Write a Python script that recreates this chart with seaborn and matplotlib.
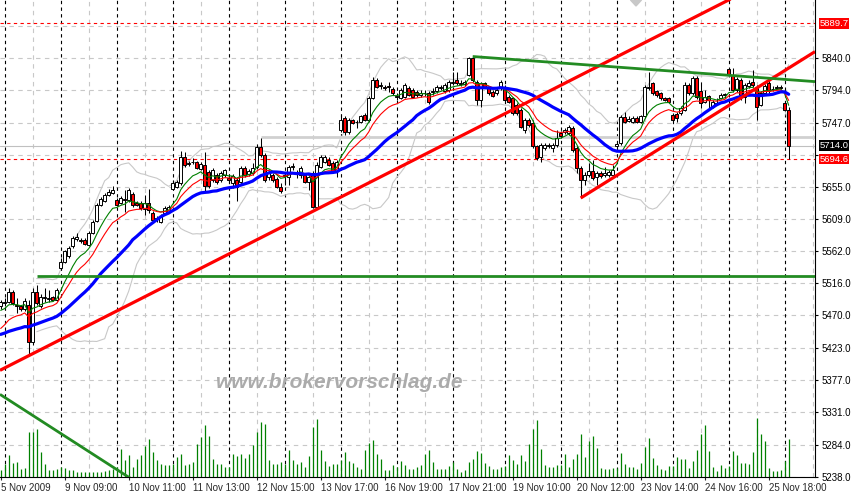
import numpy as np
import pandas as pd
import matplotlib
matplotlib.use("Agg")
import matplotlib.pyplot as plt
import matplotlib.transforms as mtransforms
import seaborn as sns

# ---------------- data (H1 bars, DAX, 5-26 Nov 2009) ----------------
opens = [5484,5488,5490,5504,5485,5483,5479,5485,5432,5504,5484,5495,5494,5496,5492,5538,5547,5556,5570,5580,
         5578,5578,5571,5588,5606,5629,5634,5643,5646,5636,5632,5637,5636,5645,5632,5632,5623,5632,5617,5610,
         5605,5617,5619,5652,5655,5660,5698,5689,5690,5690,5681,5686,5676,5665,5672,5665,5672,5668,5660,5665,
         5662,5682,5673,5675,5683,5712,5701,5669,5672,5666,5655,5670,5669,5683,5673,5672,5672,5662,5675,5626,
         5684,5691,5693,5689,5677,5737,5754,5734,5751,5748,5748,5758,5751,5782,5808,5800,5798,5800,5795,5784,
         5782,5784,5797,5794,5791,5787,5790,5789,5791,5792,5797,5792,5794,5804,5808,5803,5803,5816,5840,5806,
         5780,5804,5797,5791,5790,5797,5798,5784,5783,5772,5765,5737,5751,5747,5713,5698,5711,5713,5711,5715,
         5732,5734,5732,5739,5711,5682,5665,5672,5677,5669,5675,5672,5672,5672,5714,5718,5755,5750,5748,5754,
         5748,5756,5797,5804,5792,5789,5782,5782,5758,5760,5761,5765,5801,5789,5811,5792,5777,5785,5770,5775,
         5782,5787,5824,5816,5794,5808,5784,5800,5806,5799,5772,5790,5804,5795,5797,5798,5775,5765]
highs = [5492,5495,5510,5507,5495,5485,5495,5492,5510,5514,5501,5510,5507,5498,5510,5553,5564,5570,5584,5588,
         5581,5581,5591,5607,5632,5640,5646,5652,5656,5639,5642,5650,5653,5647,5635,5635,5643,5652,5620,5613,
         5616,5627,5629,5665,5665,5706,5705,5692,5696,5692,5690,5705,5679,5682,5675,5678,5680,5670,5673,5669,
         5685,5685,5680,5689,5716,5725,5703,5679,5675,5669,5660,5676,5686,5689,5679,5685,5675,5672,5678,5691,
         5701,5701,5698,5692,5693,5758,5757,5754,5752,5751,5758,5761,5785,5813,5811,5806,5801,5806,5798,5790,
         5797,5804,5800,5797,5794,5794,5794,5793,5797,5801,5801,5804,5808,5820,5820,5808,5808,5841,5842,5808,
         5805,5805,5800,5794,5797,5808,5801,5787,5784,5775,5768,5754,5754,5751,5715,5718,5718,5718,5718,5737,
         5735,5739,5744,5742,5714,5685,5676,5689,5693,5678,5678,5683,5679,5686,5721,5758,5763,5757,5757,5757,
         5758,5801,5820,5805,5794,5791,5784,5784,5761,5762,5771,5806,5804,5814,5814,5806,5794,5787,5780,5782,
         5790,5790,5826,5826,5813,5811,5804,5808,5823,5801,5792,5803,5808,5800,5801,5801,5777,5770]
lows = [5479,5484,5488,5485,5474,5477,5477,5413,5428,5485,5481,5489,5489,5491,5491,5535,5545,5553,5567,5577,
        5574,5571,5570,5587,5604,5627,5633,5642,5645,5627,5630,5619,5633,5626,5627,5622,5614,5617,5603,5604,
        5603,5614,5617,5650,5653,5658,5683,5685,5688,5680,5679,5649,5653,5662,5659,5662,5669,5662,5653,5635,
        5659,5669,5670,5672,5680,5698,5662,5665,5662,5653,5646,5658,5658,5679,5668,5668,5660,5650,5624,5624,
        5682,5689,5685,5675,5669,5734,5729,5731,5745,5739,5747,5749,5748,5781,5797,5795,5794,5791,5787,5780,
        5781,5782,5785,5782,5784,5784,5785,5774,5787,5790,5794,5790,5791,5801,5801,5800,5800,5814,5805,5772,
        5770,5797,5787,5784,5787,5794,5777,5775,5758,5758,5739,5732,5741,5711,5693,5691,5708,5711,5705,5712,
        5725,5731,5729,5705,5675,5639,5658,5669,5665,5658,5668,5669,5669,5669,5711,5715,5747,5748,5747,5747,
        5747,5754,5794,5787,5784,5780,5778,5775,5749,5748,5758,5764,5787,5787,5781,5768,5775,5768,5768,5772,
        5781,5782,5814,5791,5791,5780,5775,5797,5798,5751,5771,5787,5790,5793,5795,5795,5764,5694.6]
closes = [5489,5489,5504,5488,5484,5479,5491,5432,5504,5488,5497,5496,5495,5492,5507,5547,5562,5567,5581,5583,
          5577,5573,5588,5604,5629,5637,5643,5647,5650,5629,5639,5636,5650,5629,5629,5624,5632,5622,5607,5608,
          5613,5624,5626,5660,5662,5698,5686,5687,5691,5682,5688,5656,5656,5679,5662,5675,5679,5665,5670,5655,
          5682,5672,5678,5682,5712,5701,5665,5676,5665,5655,5649,5672,5684,5685,5675,5682,5662,5669,5626,5686,
          5698,5698,5686,5677,5691,5751,5734,5751,5747,5748,5756,5751,5782,5808,5799,5801,5797,5798,5790,5785,
          5794,5801,5787,5784,5787,5790,5789,5777,5793,5799,5798,5801,5806,5805,5804,5804,5805,5840,5808,5780,
          5804,5799,5790,5785,5794,5805,5780,5777,5761,5761,5741,5751,5744,5713,5696,5715,5715,5715,5715,5725,
          5728,5737,5741,5708,5682,5665,5672,5677,5667,5675,5670,5675,5676,5679,5716,5755,5748,5752,5754,5748,
          5756,5799,5799,5789,5787,5782,5780,5777,5751,5754,5768,5801,5789,5811,5784,5775,5784,5780,5777,5774,
          5787,5788,5816,5794,5810,5787,5801,5804,5801,5770,5789,5800,5792,5796,5799,5797,5765,5714.0]
volumes = [67,133,217,140,150,83,93,450,450,477,250,127,73,67,83,100,93,73,67,50,
           50,50,50,50,50,50,60,67,83,100,283,167,217,100,183,220,307,383,250,167,
           127,117,117,127,200,233,117,133,150,333,400,517,407,183,127,133,100,100,227,207,
           233,193,233,317,450,547,527,167,127,133,150,133,267,173,133,150,100,207,500,583,
           267,160,107,127,133,167,250,160,140,100,83,267,340,367,227,183,73,67,117,100,
           160,117,83,83,100,117,227,267,150,83,83,83,107,150,83,50,73,150,183,260,
           240,140,107,83,83,100,107,217,173,133,217,160,333,483,573,283,117,100,100,117,
           117,227,100,183,227,427,200,357,407,290,93,77,83,93,93,240,133,97,97,83,
           140,300,387,187,123,83,67,107,113,200,177,177,90,157,267,427,517,260,100,63,
           117,87,113,260,217,140,140,133,250,590,433,357,93,60,60,67,160,380]

time_label_bars = [0, 16, 32, 48, 64, 80, 96, 112, 128, 144, 160, 176, 192]
time_labels = ["5 Nov 2009", "9 Nov 09:00", "10 Nov 11:00", "11 Nov 13:00", "12 Nov 15:00",
               "13 Nov 17:00", "16 Nov 19:00", "17 Nov 21:00", "19 Nov 10:00", "20 Nov 12:00",
               "23 Nov 14:00", "24 Nov 16:00", "25 Nov 18:00"]
day_separator_bars = [1, 15, 29, 43, 57, 71, 85, 99, 113, 126, 140, 154, 168, 182, 196]
grid_bars = [8, 22, 36, 50, 64, 78, 92, 106, 120, 133, 147, 161, 175, 189, 203]
price_ticks = [5238.0, 5284.0, 5331.0, 5377.0, 5423.0, 5470.0, 5516.0, 5562.0, 5609.0,
               5655.0, 5701.0, 5747.0, 5794.0, 5840.0, 5886.0]

# moving-average levels before the first visible bar (read at the left edge)
ma_prior_fast, ma_prior_mid, ma_prior_slow = 5474, 5445, 5441

# drawn objects: (bar, price) anchors
red_trend_long = [(0, 5391.7), (150, 5829.9)]
red_trend_short = [(145, 5638.8), (197, 5825.5)]
green_trend_top = [(118, 5842.1), (197, 5808.8)]
green_trend_low = [(0, 5356.0), (30, 5245.0)]
green_level = (9, 5527.0)
gray_level = (65, 5727.0)
red_levels = [5889.7, 5694.6]
bid_price = 5714.0

# ---------------- computations ----------------
n = len(closes)
idx = np.arange(n)
df = pd.DataFrame({"bar": idx, "open": opens, "high": highs, "low": lows,
                   "close": closes, "volume": volumes})

def ema(vals, span, prior):
    a = 2.0 / (span + 1)
    e = prior
    out = []
    for v in vals:
        e = e + a * (v - e)
        out.append(e)
    return np.array(out)

def sma(vals, period, prior):
    s = pd.Series([prior] * (period - 1) + list(vals), dtype=float)
    return s.rolling(period).mean().to_numpy()[period - 1:]

df["ma_fast"] = ema(df["close"], 8, ma_prior_fast)
df["ma_mid"] = ema(df["close"], 13, ma_prior_mid)
df["ma_slow"] = sma(df["close"], 26, ma_prior_slow)
roll = df["close"].rolling(20, min_periods=10)
df["bb_up"] = roll.mean() + 2 * roll.std(ddof=0)
df["bb_lo"] = roll.mean() - 2 * roll.std(ddof=0)

# ---------------- figure ----------------
sns.set_style("white")
plt.rcParams["font.family"] = ["Liberation Sans", "DejaVu Sans"]

W, H = 853, 492
fig = plt.figure(figsize=(W / 100, H / 100), dpi=100)
ax = fig.add_axes([0, 15 / H, 815 / W, 477 / H])
xmin, xmax = -0.175, 203.575
ymin, ymax = 5237.9, 5923.3
ax.set_xlim(xmin, xmax)
ax.set_ylim(ymin, ymax)
bt = mtransforms.blended_transform_factory(ax.transAxes, ax.transData)

# grid
for p in price_ticks:
    ax.axhline(p, color="#c8c8c8", lw=0.8, ls=(0, (4, 4)), zorder=0.5)
for b in grid_bars:
    ax.axvline(b, color="#c8c8c8", lw=0.8, ls=(0, (4, 4)), zorder=0.5)
for b in day_separator_bars:
    ax.axvline(b, color="black", lw=0.8, ls=(0, (3, 3)), zorder=0.6)

# volumes
vol_scale = 0.14368
ax.vlines(df["bar"], ymin, ymin + df["volume"] * vol_scale, color="#008000", lw=0.9, zorder=1)

# watermark
ax.text(340 / 815, 5373, "www.brokervorschlag.de", transform=bt,
        ha="center", va="center", fontsize=15, fontweight="bold", style="italic",
        color="#ababab", zorder=1.5)

# small gray marker at the top
ax.fill([630.5 / 815, 641.5 / 815, 636 / 815], [1.0, 1.0, 1 - 6 / 477], transform=ax.transAxes,
        color="#c8c8c8", zorder=1.5, clip_on=False)

# bollinger bands
sns.lineplot(data=df, x="bar", y="bb_up", ax=ax, color="#c8c8c8", lw=0.8, zorder=2, legend=False)
sns.lineplot(data=df, x="bar", y="bb_lo", ax=ax, color="#c8c8c8", lw=0.8, zorder=2, legend=False)

# horizontal levels
for p in red_levels:
    ax.axhline(p, color="red", lw=0.8, ls=(0, (3, 3)), zorder=2.5)
ax.axhline(bid_price, color="#c0c0c0", lw=0.8, zorder=2.4)
ax.hlines(gray_level[1], gray_level[0], xmax, color="#d0d0d0", lw=2.0, zorder=2.4)
ax.hlines(green_level[1], green_level[0], xmax, color="#228b22", lw=2.0, zorder=5)

# candles
ax.vlines(df["bar"], df["low"], df["high"], color="black", lw=0.75, zorder=3)
up = df["close"] >= df["open"]
body_h = (df["close"] - df["open"]).abs().clip(lower=0.6)
body_b = np.minimum(df["open"], df["close"])
ax.bar(df["bar"][up], body_h[up], bottom=body_b[up], width=0.62, color="white",
       edgecolor="black", lw=0.7, zorder=3.1)
ax.bar(df["bar"][~up], body_h[~up], bottom=body_b[~up], width=0.62, color="red",
       edgecolor="black", lw=0.7, zorder=3.1)

# moving averages
sns.lineplot(data=df, x="bar", y="ma_fast", ax=ax, color="#008000", lw=0.8, zorder=4, legend=False)
sns.lineplot(data=df, x="bar", y="ma_mid", ax=ax, color="red", lw=0.8, zorder=4, legend=False)
sns.lineplot(data=df, x="bar", y="ma_slow", ax=ax, color="#0000ff", lw=2.3, zorder=4.2, legend=False)

# trend lines
def line_through(anchors, x0, x1):
    (xa, ya), (xb, yb) = anchors
    s = (yb - ya) / (xb - xa)
    return [x0, x1], [ya + s * (x0 - xa), ya + s * (x1 - xa)]

xs, ys = line_through(red_trend_long, xmin, xmax)
ax.plot(xs, ys, color="red", lw=2.3, zorder=5, solid_capstyle="butt")
xs, ys = line_through(red_trend_short, red_trend_short[0][0], xmax)
ax.plot(xs, ys, color="red", lw=2.3, zorder=5, solid_capstyle="butt")
xs, ys = line_through(green_trend_top, green_trend_top[0][0], xmax)
ax.plot(xs, ys, color="#228b22", lw=2.0, zorder=5, solid_capstyle="butt")
xs, ys = line_through(green_trend_low, xmin, 40)
ax.plot(xs, ys, color="#228b22", lw=2.0, zorder=5, solid_capstyle="butt")

# axes styling
for s in ["left", "top"]:
    ax.spines[s].set_visible(False)
for s in ["right", "bottom"]:
    ax.spines[s].set_color("black")
    ax.spines[s].set_linewidth(0.8)
ax.set_xlabel("")
ax.set_ylabel("")
ax.yaxis.set_ticks_position("right")
shown_ticks = [p for p in price_ticks if p < 5880]
ax.set_yticks(shown_ticks)
ax.set_yticklabels(["" if p == 5701.0 else f"{p:.1f}" for p in shown_ticks])
ax.tick_params(axis="y", which="both", right=True, length=2.5, width=0.8, pad=2,
               labelsize=7, colors="black")
ax.set_xticks(time_label_bars)
ax.set_xticklabels(time_labels, ha="left")
ax.tick_params(axis="x", bottom=True, length=2.5, width=0.8, pad=2, labelsize=7)

# price boxes on the right axis
for p, fc in [(red_levels[0], "red"), (bid_price, "black"), (red_levels[1], "red")]:
    ax.text(1.0055, p, f"{p:.1f}", transform=bt, ha="left", va="center", fontsize=6.8,
            color="white", clip_on=False, zorder=10,
            bbox=dict(boxstyle="square,pad=0.08", fc=fc, ec="none"))

fig.savefig("out.png", dpi=100)
